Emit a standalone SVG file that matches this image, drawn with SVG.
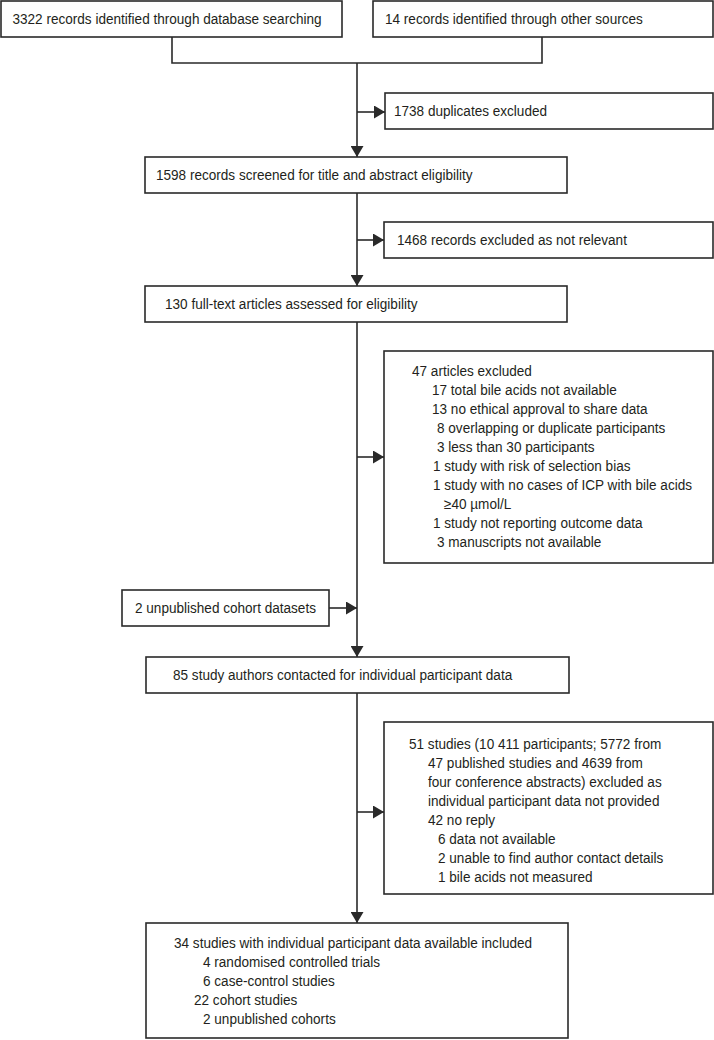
<svg xmlns="http://www.w3.org/2000/svg" width="714" height="1040" viewBox="0 0 714 1040">
<style>
.box{fill:#fff;stroke:#2a2a2a;stroke-width:1.6}
.t{font-family:"Liberation Sans",Arial,sans-serif;font-size:14.5px;fill:#231f20}
.c{fill:none;stroke:#2a2a2a;stroke-width:1.6}
</style>
<defs>
<marker id="ah" markerUnits="userSpaceOnUse" markerWidth="12" markerHeight="13" refX="11" refY="6.5" orient="auto">
<path d="M0,0 L11,6.5 L0,13 Z" fill="#2a2a2a"/>
</marker>
</defs>
<rect width="714" height="1040" fill="#fff"/>
<g id="connectors">
<path class="c" d="M172,37 V63 H542 V37"/>
<path class="c" d="M357,63 V157" marker-end="url(#ah)"/>
<path class="c" d="M357,112 H385" marker-end="url(#ah)"/>
<path class="c" d="M357,193 V286" marker-end="url(#ah)"/>
<path class="c" d="M357,240 H384" marker-end="url(#ah)"/>
<path class="c" d="M357,322 V657" marker-end="url(#ah)"/>
<path class="c" d="M357,457 H384" marker-end="url(#ah)"/>
<path class="c" d="M329,608 H357" marker-end="url(#ah)"/>
<path class="c" d="M357,693 V923" marker-end="url(#ah)"/>
<path class="c" d="M357,812 H384" marker-end="url(#ah)"/>
</g>
<g id="db">
<rect class="box" x="1" y="1" width="341" height="36"/>
<text class="t" transform="translate(12.5,24) scale(0.936,1)">3322 records identified through database searching</text>
</g>
<g id="other">
<rect class="box" x="373" y="1" width="340" height="36"/>
<text class="t" transform="translate(385,24) scale(0.936,1)">14 records identified through other sources</text>
</g>
<g id="duplicates">
<rect class="box" x="385" y="93" width="328" height="36"/>
<text class="t" transform="translate(394,116) scale(0.936,1)">1738 duplicates excluded</text>
</g>
<g id="screened">
<rect class="box" x="145" y="157" width="422" height="36"/>
<text class="t" transform="translate(156,180) scale(0.936,1)">1598 records screened for title and abstract eligibility</text>
</g>
<g id="notrelevant">
<rect class="box" x="384" y="222" width="329" height="36"/>
<text class="t" transform="translate(397,245) scale(0.936,1)">1468 records excluded as not relevant</text>
</g>
<g id="fulltext">
<rect class="box" x="145" y="286" width="422" height="36"/>
<text class="t" transform="translate(165,309) scale(0.936,1)">130 full-text articles assessed for eligibility</text>
</g>
<g id="articles-excluded">
<rect class="box" x="384" y="351" width="329" height="212"/>
<text class="t" transform="translate(412,376) scale(0.936,1)">47 articles excluded</text>
<text class="t" transform="translate(432,395) scale(0.936,1)">17 total bile acids not available</text>
<text class="t" transform="translate(432,414) scale(0.936,1)">13 no ethical approval to share data</text>
<text class="t" transform="translate(437,433) scale(0.936,1)">8 overlapping or duplicate participants</text>
<text class="t" transform="translate(437,452) scale(0.936,1)">3 less than 30 participants</text>
<text class="t" transform="translate(433,471) scale(0.936,1)">1 study with risk of selection bias</text>
<text class="t" transform="translate(433,490) scale(0.936,1)">1 study with no cases of ICP with bile acids</text>
<text class="t" transform="translate(444,509) scale(0.936,1)">≥40 µmol/L</text>
<text class="t" transform="translate(433,528) scale(0.936,1)">1 study not reporting outcome data</text>
<text class="t" transform="translate(437,547) scale(0.936,1)">3 manuscripts not available</text>
</g>
<g id="unpublished">
<rect class="box" x="122" y="590" width="207" height="36"/>
<text class="t" transform="translate(135,613) scale(0.936,1)">2 unpublished cohort datasets</text>
</g>
<g id="contacted">
<rect class="box" x="146" y="657" width="423" height="36"/>
<text class="t" transform="translate(173,680) scale(0.936,1)">85 study authors contacted for individual participant data</text>
</g>
<g id="studies-excluded">
<rect class="box" x="384" y="722" width="329" height="172"/>
<text class="t" transform="translate(409,749) scale(0.936,1)">51 studies (10 411 participants; 5772 from</text>
<text class="t" transform="translate(428,768) scale(0.936,1)">47 published studies and 4639 from</text>
<text class="t" transform="translate(428,787) scale(0.936,1)">four conference abstracts) excluded as</text>
<text class="t" transform="translate(428,806) scale(0.936,1)">individual participant data not provided</text>
<text class="t" transform="translate(428,825) scale(0.936,1)">42 no reply</text>
<text class="t" transform="translate(438,844) scale(0.936,1)">6 data not available</text>
<text class="t" transform="translate(438,863) scale(0.936,1)">2 unable to find author contact details</text>
<text class="t" transform="translate(438,882) scale(0.936,1)">1 bile acids not measured</text>
</g>
<g id="included">
<rect class="box" x="146" y="923" width="422" height="115"/>
<text class="t" transform="translate(174,948) scale(0.936,1)">34 studies with individual participant data available included</text>
<text class="t" transform="translate(203,967) scale(0.936,1)">4 randomised controlled trials</text>
<text class="t" transform="translate(203,986) scale(0.936,1)">6 case-control studies</text>
<text class="t" transform="translate(194,1005) scale(0.936,1)">22 cohort studies</text>
<text class="t" transform="translate(203,1024) scale(0.936,1)">2 unpublished cohorts</text>
</g>
</svg>
